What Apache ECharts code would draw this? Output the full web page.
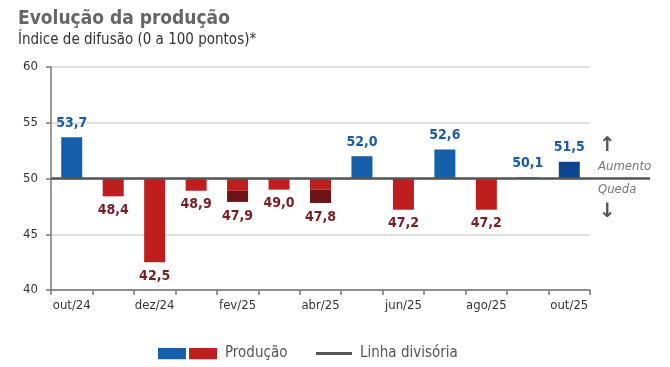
<!DOCTYPE html>
<html><head><meta charset="utf-8">
<script src="https://cdn.jsdelivr.net/npm/echarts@6/dist/echarts.min.js"></script>
<style>html,body{margin:0;padding:0;background:#fff}#c{width:670px;height:367px}</style>
</head><body><div id="c"></div>
<script>
const categories = ['out/24','nov/24','dez/24','jan/25','fev/25','mar/25','abr/25','mai/25','jun/25','jul/25','ago/25','set/25','out/25'];
const producao = [53.7,48.4,42.5,48.9,47.9,49.0,47.8,52.0,47.2,52.6,47.2,50.1,51.5];
const quedaAnterior = [null,null,null,null,48.9,null,49.0,null,null,null,null,null,null];
const baseline = 50;
const yMin = 40, yMax = 60, yInterval = 5;

const FONT = '"DejaVu Sans Condensed","Liberation Sans Narrow",sans-serif';
const BLUE = '#1660ab', BLUE_DARK = '#0d4690', RED = '#be1e1e', RED_DARK = '#6e1419';
const LBL_BLUE = '#1b5ba6', LBL_RED = '#7b1c22';
const fmt = v => v.toFixed(1).replace('.', ',');
const r2 = v => Math.round(v * 100) / 100;

const mainData = producao.map((v, i) => {
  const d = quedaAnterior[i];
  const top = d != null ? d : v;
  const up = v >= baseline;
  const item = {
    value: r2(top - baseline),
    itemStyle: { color: up ? (i === producao.length - 1 ? BLUE_DARK : BLUE) : RED }
  };
  if (d == null) {
    item.label = { show: true, position: up ? 'top' : 'bottom', color: up ? LBL_BLUE : LBL_RED,
      formatter: () => fmt(v) };
  } else {
    item.label = { show: false };
  }
  return item;
});
const darkData = producao.map((v, i) => {
  const d = quedaAnterior[i];
  if (d == null) return null;
  return { value: r2(v - d), itemStyle: { color: RED_DARK },
    label: { show: true, position: 'bottom', color: LBL_RED, formatter: () => fmt(v) } };
});

const legendIcon = 'image://data:image/svg+xml;utf8,' + encodeURIComponent(
  '<svg xmlns="http://www.w3.org/2000/svg" width="59" height="12"><rect x="0" y="0" width="28" height="12" fill="' + BLUE + '"/><rect x="31" y="0" width="28" height="12" fill="' + RED + '"/></svg>');

const chart = echarts.init(document.getElementById('c'), null, { renderer: 'canvas' });
const option = {
  animation: false,
  textStyle: { fontFamily: FONT },
  title: {
    text: 'Evolução da produção', left: 13, top: 5, itemGap: 4,
    textStyle: { fontFamily: FONT, fontSize: 19, fontWeight: 'bold', color: '#666' },
    subtext: 'Índice de difusão (0 a 100 pontos)*',
    subtextStyle: { fontFamily: FONT, fontSize: 15, color: '#333' }
  },
  legend: [
    { left: 153, top: 341, itemWidth: 59, itemHeight: 12, itemGap: 10,
      data: [{ name: 'Produção', icon: legendIcon }],
      textStyle: { fontFamily: FONT, fontSize: 15, color: '#555', padding: [0, 0, 0, 3] } },
    { left: 311, top: 341, itemWidth: 36, itemHeight: 3,
      data: [{ name: 'Linha divisória', icon: 'rect', itemStyle: { color: '#555' } }],
      textStyle: { fontFamily: FONT, fontSize: 15, color: '#555', padding: [0, 0, 0, 3] } }
  ],
  grid: { left: 51, right: 80, top: 67, bottom: 77, containLabel: false },
  xAxis: {
    type: 'category', data: categories, boundaryGap: true,
    axisLine: { onZero: false, lineStyle: { color: '#777', width: 1.5 } },
    axisTick: { show: true, interval: 0, length: 5, lineStyle: { color: '#777', width: 1.5 } },
    axisLabel: { interval: 1, color: '#333', fontSize: 13, margin: 9, fontFamily: FONT }
  },
  yAxis: {
    type: 'value', min: yMin - baseline, max: yMax - baseline, interval: yInterval,
    axisLine: { show: true, lineStyle: { color: '#777', width: 1.5 } },
    axisTick: { show: true, length: 5, lineStyle: { color: '#777', width: 1.5 } },
    axisLabel: { color: '#333', fontSize: 13, margin: 13, fontFamily: FONT, formatter: v => String(v + baseline) },
    splitLine: { show: true, lineStyle: { color: '#d4d4d4', width: 1.5 } }
  },
  series: [
    { name: 'Produção', type: 'bar', stack: 'p', barWidth: 21, data: mainData, z: 4,
      label: { fontFamily: FONT, fontSize: 14, fontWeight: 'bold', distance: 7 } },
    { name: 'Produção (queda adicional)', type: 'bar', stack: 'p', barWidth: 21, data: darkData, z: 4,
      label: { fontFamily: FONT, fontSize: 14, fontWeight: 'bold', distance: 7 } },
    { name: 'Linha divisória', type: 'line', data: [], itemStyle: { color: '#555' },
      lineStyle: { color: '#555', width: 3 }, z: 3,
      markLine: { silent: true, symbol: 'none', label: { show: false },
        lineStyle: { color: '#555', width: 2.5, type: 'solid' },
        data: [{ yAxis: 0 }] } }
  ]
};
chart.setOption(option);
const y0 = chart.convertToPixel({ yAxisIndex: 0 }, 0);
const xr = 670 - 80;
chart.setOption({
  graphic: [
    { type: 'line', shape: { x1: xr, y1: y0, x2: 650, y2: y0 }, style: { stroke: '#555', lineWidth: 2.5 }, z: 10 },
    { type: 'text', left: 598, top: y0 - 18, style: { text: 'Aumento', font: 'italic 13px ' + FONT, fill: '#777' } },
    { type: 'text', left: 598, top: y0 + 5, style: { text: 'Queda', font: 'italic 13px ' + FONT, fill: '#777' } },
    { type: 'text', left: 599, top: y0 - 43, style: { text: '↑', font: 'bold 20px "DejaVu Sans"', fill: '#555' } },
    { type: 'text', left: 599, top: y0 + 23, style: { text: '↓', font: 'bold 20px "DejaVu Sans"', fill: '#555' } }
  ]
});
</script></body></html>
